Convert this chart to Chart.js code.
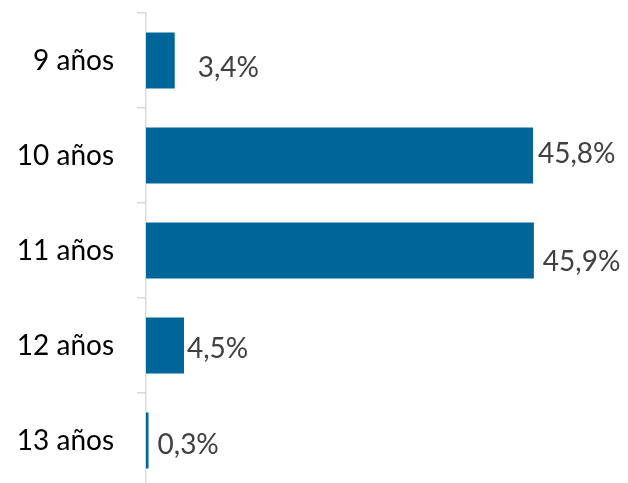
<!DOCTYPE html>
<html>
<head>
<meta charset="utf-8">
<script src="https://cdn.jsdelivr.net/npm/chart.js@4"></script>
<style>
html,body{margin:0;padding:0;background:#fff;overflow:hidden;width:628px;height:483px;}
canvas{display:block;}
</style>
</head>
<body>
<canvas id="c" width="628" height="488"></canvas>
<script>
const categories = ["9 años", "10 años", "11 años", "12 años", "13 años"];
const values = [3.4, 45.8, 45.9, 4.5, 0.3];
const valueLabels = ["3,4%", "45,8%", "45,9%", "4,5%", "0,3%"];

// label nudges (dx from bar end, dy of text centre from bar centre), px
const labelDx = [23, 5, 9, 3, 9];
const labelDy = [6, -3, 10, 2, 3];

const FONT = "Lato, 'Open Sans', sans-serif";

const valueLabelPlugin = {
  id: 'valueLabels',
  afterDatasetsDraw(chart) {
    const ctx = chart.ctx;
    const meta = chart.getDatasetMeta(0);
    ctx.save();
    ctx.font = "28px " + FONT;
    ctx.fillStyle = "#404040";
    ctx.textAlign = "left";
    ctx.textBaseline = "alphabetic";
    meta.data.forEach((bar, i) => {
      const x = bar.x + labelDx[i];
      const y = bar.y + labelDy[i] + 10;
      ctx.fillText(valueLabels[i], x, y);
    });
    ctx.restore();
  }
};

new Chart(document.getElementById('c'), {
  type: 'bar',
  data: {
    labels: categories,
    datasets: [{
      data: values,
      backgroundColor: '#006699',
      borderWidth: 0,
      barPercentage: 0.59,
      categoryPercentage: 1.0
    }]
  },
  options: {
    indexAxis: 'y',
    responsive: false,
    animation: false,
    events: [],
    layout: { autoPadding: false, padding: { top: 13, right: 59.5, bottom: 0, left: 0 } },
    plugins: { legend: { display: false }, tooltip: { enabled: false } },
    scales: {
      x: {
        display: false,
        min: 0,
        max: 50
      },
      y: {
        afterFit(scale) {
          scale.width = 146;
          scale.paddingTop = 0;
          scale.paddingBottom = 0;
        },
        border: { display: true, color: '#d9d9d9', width: 1.5 },
        grid: {
          offset: true,
          drawOnChartArea: false,
          drawTicks: true,
          tickLength: 9,
          color: '#d9d9d9',
          lineWidth: 1.5
        },
        ticks: {
          padding: 23,
          color: '#000000',
          font: { family: FONT, size: 28 }
        }
      }
    }
  },
  plugins: [valueLabelPlugin]
});
</script>
</body>
</html>
